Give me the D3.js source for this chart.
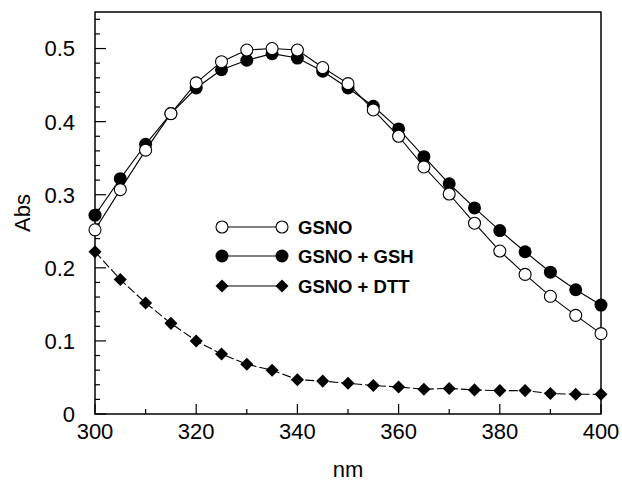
<!DOCTYPE html>
<html>
<head>
<meta charset="utf-8">
<script src="https://cdn.jsdelivr.net/npm/d3@7"></script>
<style>
  body { margin:0; background:#fff; }
  svg text { font-family: "Liberation Sans", Arial, sans-serif; fill:#000; }
  .tick-label { font-size:22px; }
  .legend text { font-size:18.5px; font-weight:bold; }
</style>
</head>
<body>
<svg id="chart" width="622" height="481"></svg>
<script>
/* ===== Data ===== */
const wavelength = [300,305,310,315,320,325,330,335,340,345,350,355,360,365,370,375,380,385,390,395,400];
const gsno    = [0.252,0.307,0.361,0.411,0.453,0.482,0.498,0.500,0.498,0.474,0.452,0.416,0.380,0.338,0.301,0.261,0.223,0.191,0.161,0.135,0.110];
const gsnoGsh = [0.272,0.322,0.369,0.411,0.446,0.471,0.484,0.493,0.487,0.469,0.446,0.421,0.390,0.352,0.315,0.282,0.251,0.222,0.194,0.170,0.149];
const gsnoDtt = [0.222,0.184,0.152,0.124,0.100,0.082,0.068,0.060,0.047,0.045,0.042,0.039,0.037,0.034,0.035,0.033,0.032,0.032,0.028,0.027,0.027];
const xTicks = [300,320,340,360,380,400];
const yTicks = [0,0.1,0.2,0.3,0.4,0.5];
const seriesNames = ['GSNO','GSNO + GSH','GSNO + DTT'];

/* ===== Layout ===== */
const svg = d3.select('#chart');
const m = {l:95, r:21, t:12, b:67};
const W = 622, H = 481;
const x = d3.scaleLinear().domain([300,400]).range([m.l, W-m.r]);
const y = d3.scaleLinear().domain([0,0.55]).range([H-m.b, m.t]);

// frame
svg.append('rect').attr('x',x(300)).attr('y',y(0.55))
  .attr('width',x(400)-x(300)).attr('height',y(0)-y(0.55))
  .attr('fill','none').attr('stroke','#000').attr('stroke-width',1.5);

// y ticks (inward), major every 0.1, minor every 0.02
const yMinor = d3.range(0,0.5501,0.02).map(v=>+v.toFixed(2));
svg.append('g').selectAll('line').data(yMinor).enter().append('line')
  .attr('x1',x(300)).attr('x2',d=> x(300) + (Math.abs(d*10 - Math.round(d*10))<1e-6 ? 11 : 5))
  .attr('y1',d=>y(d)).attr('y2',d=>y(d)).attr('stroke','#000').attr('stroke-width',1.2);
// x ticks (inward), major 20, minor 10
const xMinor = d3.range(300,401,10);
svg.append('g').selectAll('line').data(xMinor).enter().append('line')
  .attr('x1',d=>x(d)).attr('x2',d=>x(d))
  .attr('y1',y(0)).attr('y2',d=> y(0) - (d%20===0 ? 10 : 5))
  .attr('stroke','#000').attr('stroke-width',1.2);

// tick labels
svg.append('g').selectAll('text').data(yTicks).enter().append('text')
  .attr('class','tick-label').attr('x',x(300)-20).attr('y',d=>y(d)).attr('dy','0.36em')
  .attr('text-anchor','end').text(d=> d===0 ? '0' : d3.format('.1f')(d));
svg.append('g').selectAll('text').data(xTicks).enter().append('text')
  .attr('class','tick-label').attr('x',d=>x(d)).attr('y',y(0)+17).attr('dy','0.36em')
  .attr('text-anchor','middle').text(d=>d);

// axis titles
svg.append('text').attr('class','tick-label').attr('x',(x(300)+x(400))/2).attr('y',477)
  .attr('text-anchor','middle').text('nm');
svg.append('text').attr('class','tick-label')
  .attr('transform',`translate(22,${(y(0)+y(0.55))/2}) rotate(-90)`)
  .attr('text-anchor','middle').attr('dy','0.36em').text('Abs');

/* ===== Series ===== */
const line = d3.line().x((d,i)=>x(wavelength[i])).y(d=>y(d));
const diamond = d3.symbol().type(d3.symbolSquare).size(85);

function drawLine(vals, dash){
  svg.append('path').attr('d',line(vals)).attr('fill','none')
    .attr('stroke','#000').attr('stroke-width',1.1).attr('stroke-dasharray',dash||null);
}
drawLine(gsnoDtt,'9,3');
drawLine(gsnoGsh);
drawLine(gsno);

svg.append('g').selectAll('path').data(gsnoDtt).enter().append('path')
  .attr('d',diamond).attr('fill','#000')
  .attr('transform',(d,i)=>`translate(${x(wavelength[i])},${y(d)}) rotate(45)`);
svg.append('g').selectAll('circle').data(gsnoGsh).enter().append('circle')
  .attr('cx',(d,i)=>x(wavelength[i])).attr('cy',d=>y(d)).attr('r',6.5).attr('fill','#000');
svg.append('g').selectAll('circle').data(gsno).enter().append('circle')
  .attr('cx',(d,i)=>x(wavelength[i])).attr('cy',d=>y(d)).attr('r',6)
  .attr('fill','#fff').attr('stroke','#000').attr('stroke-width',1.1);

/* ===== Legend ===== */
const lg = svg.append('g').attr('class','legend');
const rows = [227,256,286];
const lx1 = 222, lx2 = 282;
seriesNames.forEach((name,i)=>{
  const ry = rows[i];
  lg.append('line').attr('x1',lx1).attr('x2',lx2).attr('y1',ry).attr('y2',ry)
    .attr('stroke','#000').attr('stroke-width',1.1);
  [lx1,lx2].forEach(px=>{
    if(i===0) lg.append('circle').attr('cx',px).attr('cy',ry).attr('r',6)
      .attr('fill','#fff').attr('stroke','#000').attr('stroke-width',1.1);
    else if(i===1) lg.append('circle').attr('cx',px).attr('cy',ry).attr('r',6.5).attr('fill','#000');
    else lg.append('path').attr('d',diamond).attr('fill','#000')
      .attr('transform',`translate(${px},${ry}) rotate(45)`);
  });
  lg.append('text').attr('x',298).attr('y',ry).attr('dy','0.36em').text(name);
});
</script>
</body>
</html>
